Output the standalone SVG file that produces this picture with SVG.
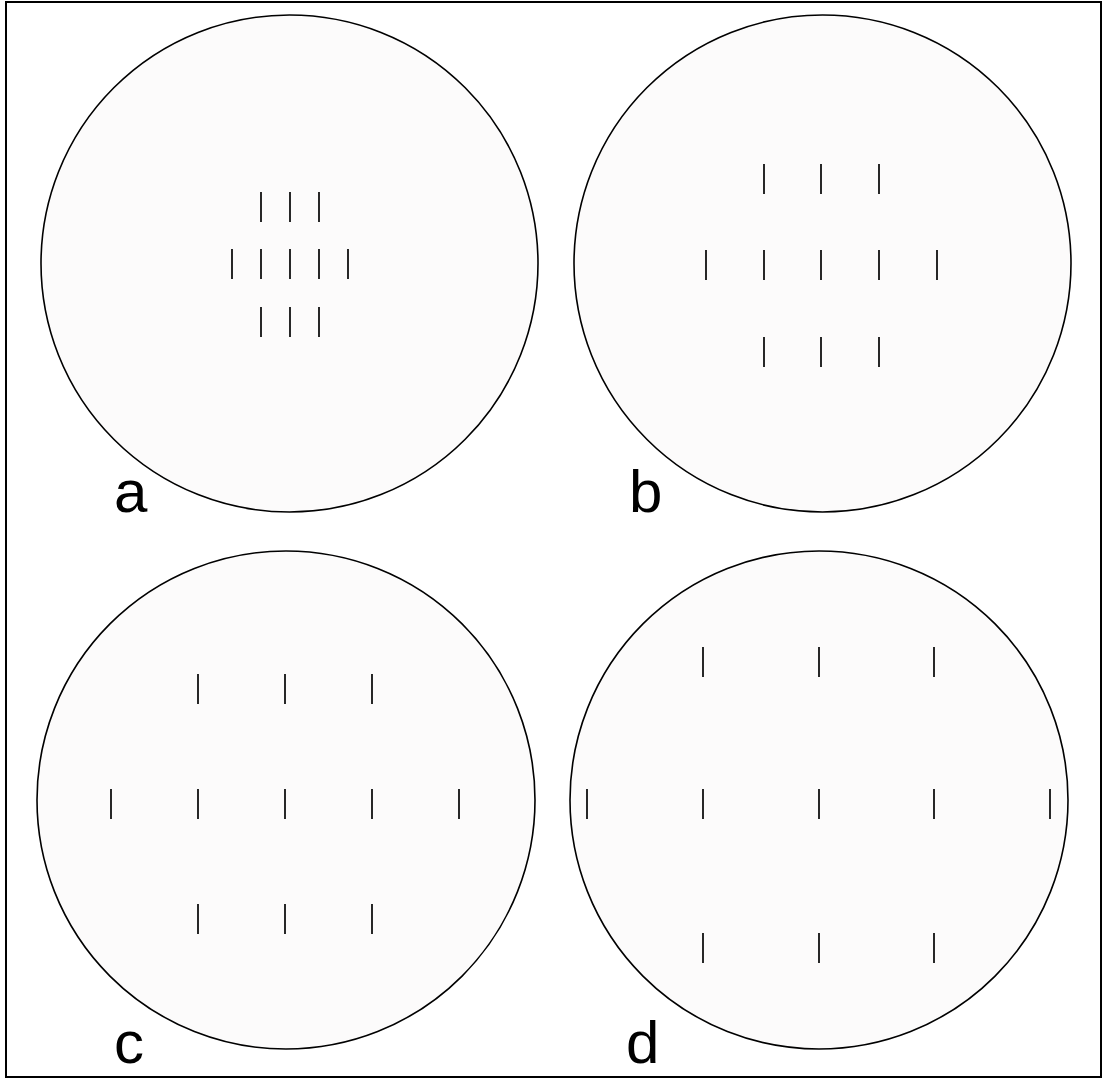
<svg xmlns="http://www.w3.org/2000/svg" width="1107" height="1079" viewBox="0 0 1107 1079">
<style>
.disk{fill:#fcfbfb;stroke:#000;stroke-width:1.6}
.tick{stroke:#111;stroke-width:1.8}
.lbl{font-family:"Liberation Sans",Arial,sans-serif;font-size:60px;fill:#000}
</style>
<rect x="0" y="0" width="1107" height="1079" fill="#fff"/>
<rect x="6" y="2" width="1095" height="1075" fill="none" stroke="#000" stroke-width="2"/>
<g id="panel-a">
<circle class="disk" cx="289.5" cy="263.5" r="248.5"/>
<path class="tick" d="M261 192v30M290 192v30M319 192v30M232 249v30M261 249v30M290 249v30M319 249v30M348 249v30M261 307v30M290 307v30M319 307v30"/>
<text class="lbl" x="114" y="512">a</text>
</g>
<g id="panel-b">
<circle class="disk" cx="822.5" cy="263.5" r="248.5"/>
<path class="tick" d="M764 164v30M821 164v30M879 164v30M706 250v30M764 250v30M821 250v30M879 250v30M937 250v30M764 337v30M821 337v30M879 337v30"/>
<text class="lbl" x="629" y="512">b</text>
</g>
<g id="panel-c">
<circle class="disk" cx="286" cy="800" r="249"/>
<path class="tick" d="M198 674v30M285 674v30M372 674v30M111 789v30M198 789v30M285 789v30M372 789v30M459 789v30M198 904v30M285 904v30M372 904v30"/>
<text class="lbl" x="114" y="1063">c</text>
</g>
<g id="panel-d">
<circle class="disk" cx="819" cy="800" r="249"/>
<path class="tick" d="M703 647v30M819 647v30M934 647v30M587 789v30M703 789v30M819 789v30M934 789v30M1050 789v30M703 933v30M819 933v30M934 933v30"/>
<text class="lbl" x="626" y="1063">d</text>
</g>
<g id="connectors"/>
</svg>
